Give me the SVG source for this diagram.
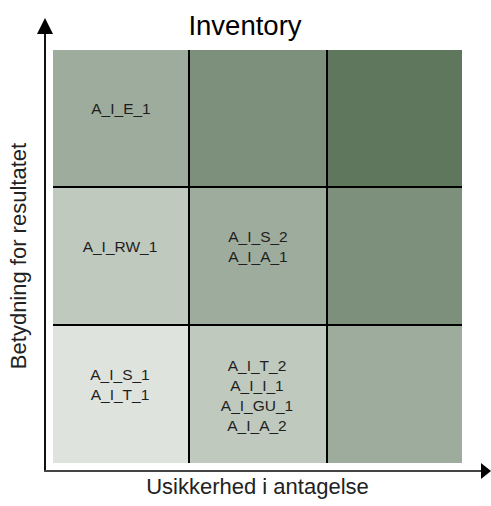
<svg xmlns="http://www.w3.org/2000/svg" width="491" height="506" viewBox="0 0 491 506">
  <defs>
    <style>
      text { font-family: "Liberation Sans", Arial, sans-serif; fill: #1e1e1e; }
      .cell-label { font-size: 15.5px; text-anchor: middle; }
      .title { font-size: 27.5px; text-anchor: middle; fill: #000; }
      .axis-label { font-size: 22px; text-anchor: middle; fill: #222; }
      .grid-line { stroke: #000; stroke-width: 2; }
      .axis { stroke-width: 2; fill: none; }
    </style>
  </defs>

  <rect width="491" height="506" fill="#fff"/>

  <!-- heat map cells: impact (rows) vs uncertainty (columns) -->
  <g id="cells">
    <g id="cell-r1c1"><rect x="53" y="50" width="136" height="137" fill="#9eac9d"/>
      <text class="cell-label" x="121" y="114">A_I_E_1</text></g>
    <g id="cell-r1c2"><rect x="189" y="50" width="138" height="137" fill="#7d907c"/></g>
    <g id="cell-r1c3"><rect x="327" y="50" width="135" height="137" fill="#5e775d"/></g>

    <g id="cell-r2c1"><rect x="53" y="187" width="136" height="138" fill="#bfc9be"/>
      <text class="cell-label" x="120" y="252">A_I_RW_1</text></g>
    <g id="cell-r2c2"><rect x="189" y="187" width="138" height="138" fill="#9eac9d"/>
      <text class="cell-label" x="258" y="242">A_I_S_2</text>
      <text class="cell-label" x="258" y="262">A_I_A_1</text></g>
    <g id="cell-r2c3"><rect x="327" y="187" width="135" height="138" fill="#7d907c"/></g>

    <g id="cell-r3c1"><rect x="53" y="325" width="136" height="138" fill="#dfe3de"/>
      <text class="cell-label" x="120" y="380">A_I_S_1</text>
      <text class="cell-label" x="120" y="400">A_I_T_1</text></g>
    <g id="cell-r3c2"><rect x="189" y="325" width="138" height="138" fill="#bfc9be"/>
      <text class="cell-label" x="257" y="370.5">A_I_T_2</text>
      <text class="cell-label" x="257" y="390.8">A_I_I_1</text>
      <text class="cell-label" x="257" y="411">A_I_GU_1</text>
      <text class="cell-label" x="257" y="431.3">A_I_A_2</text></g>
    <g id="cell-r3c3"><rect x="327" y="325" width="135" height="138" fill="#9eac9d"/></g>
  </g>

  <!-- separators between cells -->
  <g id="grid">
    <line class="grid-line" x1="189" y1="50" x2="189" y2="463"/>
    <line class="grid-line" x1="327" y1="50" x2="327" y2="463"/>
    <line class="grid-line" x1="53" y1="187" x2="462" y2="187"/>
    <line class="grid-line" x1="53" y1="325" x2="462" y2="325"/>
  </g>

  <!-- axes -->
  <g id="connectors">
    <path class="axis" stroke="#111" d="M45 471 V33"/>
    <polygon points="45,18 37,34 53,34" fill="#000"/>
    <path class="axis" stroke="#444" d="M44 471 H482"/>
    <polygon points="491,471 481,463 481,479" fill="#000"/>
  </g>

  <text class="title" x="245" y="35">Inventory</text>
  <text class="axis-label" x="257.5" y="494">Usikkerhed i antagelse</text>
  <text class="axis-label" transform="translate(25.5 256) rotate(-90)">Betydning for resultatet</text>
</svg>
